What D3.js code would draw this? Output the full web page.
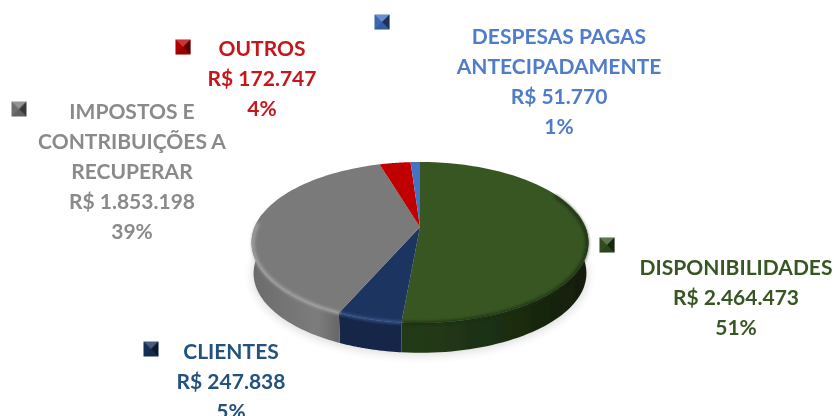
<!DOCTYPE html>
<html><head><meta charset="utf-8">
<script src="https://cdn.jsdelivr.net/npm/d3@7"></script>
<style>html,body{margin:0;background:#fff}svg{display:block}</style></head>
<body><script>
// data
const categories = ["DISPONIBILIDADES","CLIENTES","IMPOSTOS E CONTRIBUIÇÕES A RECUPERAR","OUTROS","DESPESAS PAGAS ANTECIPADAMENTE"];
const values = [2464473,247838,1853198,172747,51770];
const categoryLines = [["DISPONIBILIDADES"],["CLIENTES"],["IMPOSTOS E","CONTRIBUIÇÕES A","RECUPERAR"],["OUTROS"],["DESPESAS PAGAS","ANTECIPADAMENTE"]];
// styles + layout
const fills = ["#375623","#1b3461","#7a7a7a","#c00000","#4472c4"];
const textFills = ["#375623","#24527f","#8a8a8a","#c5161d","#4f7ccb"];
const labelPos = [[736,268],[231,352],[132,112],[262,49],[559,37]];
const keyPos = [[607,245],[151,349],[19,109],[183,47],[382,22]];
const W=834,H=416,cx=420,cy=227,R=165.3,B=77.5,k=0.1925,depth=31,lineH=29.9;

const svg=d3.select("body").append("svg").attr("width",W).attr("height",H).attr("font-family","Lato, Carlito, sans-serif");
const defs=svg.append("defs");
const f=defs.append("filter").attr("id","soft");f.append("feGaussianBlur").attr("stdDeviation",0.7);
const f2=defs.append("filter").attr("id","rim").attr("x","-10%").attr("y","-10%").attr("width","120%").attr("height","120%");f2.append("feGaussianBlur").attr("stdDeviation",1.8);
const f3=defs.append("filter").attr("id","shadow").attr("x","-20%").attr("y","-20%").attr("width","140%").attr("height","140%");f3.append("feGaussianBlur").attr("stdDeviation",4);
const root=svg.append("g").attr("filter","url(#soft)");

const proj=(a,r=1,dy=0,sc=1)=>{const u=Math.sin(a)*r,v=-Math.cos(a)*r,s=1/(1-k*v);return [cx+R*u*s*sc,cy+B*v*s*sc+dy];};
const line=d3.line();
const arcs=d3.pie().sort(null)(values);
const total=d3.sum(values);
const samples=(a,b,n=60)=>d3.range(n+1).map(i=>a+(b-a)*i/n);

// wall gradients
const ramp=(id,stops)=>{const g=defs.append("linearGradient").attr("id",id).attr("gradientUnits","userSpaceOnUse").attr("x1",cx-R*1.03).attr("x2",cx+R*1.03).attr("y1",0).attr("y2",0);
 stops.forEach(([o,c])=>g.append("stop").attr("offset",o).attr("stop-color",c));};
ramp("w0",[[0,"#1c2e12"],[.5,"#233a16"],[.75,"#1c2e11"],[1,"#121c0a"]]);
ramp("w1",[[0,"#14264a"],[1,"#14264a"]]);
ramp("w2",[[0,"#6a6a6a"],[.1,"#747474"],[.2,"#7c7c7c"],[.28,"#616161"],[1,"#5e5e5e"]]);
const wallFill=["url(#w0)","url(#w1)","url(#w2)","#600","#234"];

// ground shadow
root.append("path").attr("fill","#000").attr("opacity",.12).attr("filter","url(#shadow)")
 .attr("d",line(samples(0,2*Math.PI,120).map(a=>proj(a,1,depth+2,1)))+"Z");

// side wall: visible front half
const wallStart=Math.PI/2-0.19, wallEnd=3*Math.PI/2+0.19;
root.append("g").selectAll("path").data(arcs).join("path")
 .attr("fill",(d,i)=>wallFill[i])
 .attr("d",d=>{const a=Math.max(d.startAngle,wallStart),b=Math.min(d.endAngle,wallEnd);
  if(b<=a)return null;
  const s=samples(a,b);
  return line(s.map(t=>proj(t)).concat(s.slice().reverse().map(t=>proj(t,1,depth,0.988))))+"Z";});

// top face
root.append("g").selectAll("path").data(arcs).join("path")
 .attr("fill",(d,i)=>fills[i])
 .attr("d",d=>line([[cx,cy]].concat(samples(d.startAngle,d.endAngle).map(t=>proj(t))))+"Z");

// bevel rim along the front edge
const rimColor=["#1a2a10","#3f5d90","#ababab","#900","#36c"];
const rimFrom=[Math.PI*0.35,0,0,9,9], rimTo=[9,9,Math.PI*1.52,0,0];
root.append("g").attr("filter","url(#rim)").selectAll("path").data(arcs).join("path")
 .attr("fill","none").attr("stroke-width",3).attr("opacity",.85)
 .attr("stroke",(d,i)=>rimColor[i])
 .attr("d",(d,i)=>{const a=Math.max(d.startAngle,rimFrom[i]),b=Math.min(d.endAngle,rimTo[i]);
  return b>a?line(samples(a,b).map(t=>proj(t,0.992,1))):null;});

// legend keys (bevelled squares)
const keySize=15;
const shade=[[ "#ffffff",.2,[[0,0],[1,0],[.5,.5]]],["#000000",.55,[[1,0],[1,1],[.5,.5]]],["#000000",.2,[[0,1],[1,1],[.5,.5]]],["#000000",.1,[[0,0],[0,1],[.5,.5]]]];
const keys=root.append("g").selectAll("g").data(keyPos).join("g")
 .attr("transform",d=>`translate(${d[0]-keySize/2},${d[1]-keySize/2})`);
keys.append("rect").attr("width",keySize).attr("height",keySize).attr("fill",(d,i)=>fills[i]);
keys.selectAll("path").data(shade).join("path").attr("fill",d=>d[0]).attr("opacity",d=>d[1])
 .attr("d",d=>line(d[2].map(p=>[p[0]*keySize,p[1]*keySize]))+"Z");

// labels
const num=d3.formatLocale({decimal:",",thousands:".",grouping:[3],currency:["R$ ",""]}).format("$,.0f");
const lab=root.append("g").attr("font-weight",700).attr("font-size",21).attr("text-anchor","middle");
categories.forEach((c,i)=>{
 const lines=categoryLines[i].concat([num(values[i]),Math.round(values[i]/total*100)+"%"]);
 lab.append("g").attr("fill",textFills[i]).selectAll("text").data(lines).join("text")
  .attr("x",labelPos[i][0]).attr("y",(d,j)=>labelPos[i][1]+j*lineH).attr("dy","0.35em").text(d=>d);
});
</script></body></html>
